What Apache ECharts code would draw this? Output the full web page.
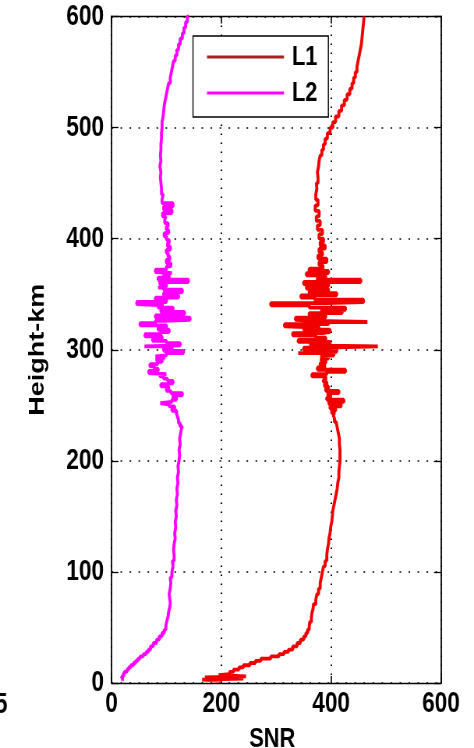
<!DOCTYPE html>
<html>
<head>
<meta charset="utf-8">
<script src="https://cdn.jsdelivr.net/npm/echarts@6/dist/echarts.min.js"></script>
<style>
html,body{margin:0;padding:0;background:#fff;overflow:hidden;}
#wrap{width:474px;height:748px;overflow:hidden;position:relative;}
#chart{width:608px;height:748px;transform:scaleX(0.7796);transform-origin:0 0;position:absolute;left:0;top:0;}
</style>
</head>
<body>
<div id="wrap"><div id="chart"></div></div>
<script>
// ---------- data ----------
const xTicks = [0, 200, 400, 600];
const yTicks = [0, 100, 200, 300, 400, 500, 600];
const seriesNames = ['L1', 'L2'];

const heightL1 = [2,3,4,5,6,7,8,10,12,14,16,18,20,22,24,26,28,30,33,36,39,42,45,48,51,55,59,63,67,71,75,80,85,90,95,100,105,110,115,120,125,130,135,140,145,150,155,160,165,170,175,180,185,190,195,200,205,210,215,220,225,230,235,238,241,243,245,247,249,251,253,255,257,259,261,263,265,267,269,271,273,276,278,280,282,284,286,288,290,292,294,295,297,298,300,302,303,304,305,307,309,311,313,315,316,318,320,321,323,325,326,327,329,331,333,335,336,338,340,342,343,345,347,349,351,353,355,357,359,361,363,365,367,369,371,373,376,379,382,385,388,391,394,397,400,404,408,412,416,420,425,430,435,440,445,450,455,460,465,470,475,480,485,490,495,500,505,510,515,520,525,530,535,540,545,550,555,560,565,570,575,580,585,590,595,600];
const snrL1 = [200,165,240,170,245,195,215,222,232,240,252,262,272,290,305,314,322,330,338,344,350,354,357,360,361,364,365,367,368,372,374,377,380,382,384,386,389,392,393,395,396,398,399,401,402,403,405,407,409,411,412,414,414,415,416,416,416,415,415,413,411,409,406,404,406,401,408,398,418,396,423,392,399,394,414,390,395,388,392,386,390,365,392,426,375,388,380,390,382,395,380,405,340,410,350,392,485,360,398,340,390,372,330,385,398,350,380,315,395,466,370,335,390,360,420,380,426,360,290,390,459,370,345,410,360,395,355,395,350,454,375,390,355,395,360,385,378,392,376,384,378,389,380,386,378,384,375,380,373,378,371,376,372,374,373,376,375,377,378,380,383,386,389,393,398,403,408,414,419,424,429,434,438,441,444,447,449,451,453,455,456,457,458,459,460,461];

const heightL2 = [2,4,6,8,10,12,14,16,18,20,22,24,26,28,30,33,36,39,42,45,48,52,56,60,64,68,72,76,80,85,90,95,100,105,110,115,120,125,130,135,140,145,150,155,160,165,170,175,180,185,190,195,200,205,210,215,220,225,228,231,234,237,240,243,245,247,249,251,252,253,255,257,259,261,263,265,267,269,270,272,274,276,278,279,281,283,285,287,289,291,292,294,295,297,299,301,303,304,306,308,310,312,314,316,318,320,322,324,326,327,329,331,332,334,336,338,340,341,343,345,347,349,351,352,354,356,357,359,361,363,365,367,369,370,372,375,378,381,384,387,390,393,396,399,402,405,408,411,414,417,420,423,426,429,432,435,440,445,450,455,460,465,470,475,480,485,490,495,500,505,510,515,520,525,530,535,540,545,550,555,560,565,570,575,580,585,590,595,600];
const snrL2 = [20,18,22,24,28,31,35,40,44,48,52,58,63,67,71,76,82,87,92,96,99,101,103,104,106,107,106,105,107,108,107,110,112,111,114,113,114,116,115,117,116,118,117,119,118,120,119,121,120,122,121,123,124,123,125,124,126,127,129,125,122,120,118,119,110,115,105,100,89,110,118,112,129,108,100,104,90,98,112,102,95,88,100,68,85,78,70,84,92,80,95,80,100,131,95,110,60,125,100,75,92,61,90,105,85,100,52,80,95,143,80,100,133,90,112,85,95,46,100,80,122,95,110,129,95,85,100,88,140,85,105,95,110,80,100,108,100,106,103,100,107,102,105,100,96,104,100,103,97,99,93,110,95,112,92,94,91,90,89,90,88,90,89,90,90,91,91,92,92,94,95,96,98,100,102,104,107,109,111,113,116,119,122,125,129,132,135,138,141];

// ---------- chart ----------
// The reference figure is horizontally compressed; the chart is laid out
// in a wider box and the whole box is squeezed by S with CSS.
const S = 0.7796;
const px = v => v / S;           // screen px -> layout px (horizontal)
const font = "'Liberation Sans',Arial,Helvetica,sans-serif";
const toPairs = (xs, ys) => xs.map((v, i) => [v, ys[i]]);
const black = '#000';

const chart = echarts.init(document.getElementById('chart'), null, { renderer: 'canvas' });
chart.setOption({
  animation: false,
  backgroundColor: '#fff',
  grid: { left: px(111.5), right: px(33), top: 16.5, bottom: 65, containLabel: false, outerBoundsMode: 'none' },
  legend: {
    left: px(193), top: 36,
    orient: 'vertical',
    backgroundColor: '#fff',
    borderColor: black, borderWidth: 1.4,
    padding: [7, px(11), 10, px(14)],
    itemWidth: px(77), itemHeight: 3, itemGap: 8,
    icon: 'rect',
    data: [
      { name: seriesNames[0], itemStyle: { color: '#a82020' } },
      { name: seriesNames[1], itemStyle: { color: '#ff00ff' } }
    ],
    textStyle: { fontFamily: font, fontWeight: 'bold', fontSize: 28, color: black, lineHeight: 28, padding: [0, 0, 0, px(4)] }
  },
  xAxis: [{
    type: 'value', min: 0, max: 600, interval: 200, position: 'bottom',
    name: 'SNR', nameLocation: 'middle', nameGap: 42,
    nameTextStyle: { fontFamily: font, fontWeight: 'bold', fontSize: 28, color: black, padding: [0, px(8), 0, 0] },
    axisLine: { show: true, onZero: false, lineStyle: { color: black, width: 1.4 } },
    axisTick: { show: true, inside: true, length: 7, lineStyle: { color: black, width: px(1.3) } },
    axisLabel: { show: true, margin: 6, fontFamily: font, fontWeight: 'bold', fontSize: 29, color: black,
      formatter: v => xTicks.includes(v) ? String(v) : '' },
    splitLine: { show: true, lineStyle: { color: black, width: px(1.6), type: [1.6, 7.4] } }
  }, {
    type: 'value', min: 0, max: 600, interval: 200, position: 'top',
    axisLine: { show: true, onZero: false, lineStyle: { color: black, width: 1.4 } },
    axisTick: { show: true, inside: true, length: 7, lineStyle: { color: black, width: px(1.3) } },
    axisLabel: { show: false }, splitLine: { show: false }
  }],
  yAxis: [{
    type: 'value', min: 0, max: 600, interval: 100, position: 'left',
    name: 'Height-km', nameLocation: 'middle', nameGap: px(63), nameRotate: 90,
    nameTextStyle: { fontFamily: font, fontWeight: 'bold', fontSize: 27, color: black },
    axisLine: { show: true, onZero: false, lineStyle: { color: black, width: px(1.4) } },
    axisTick: { show: true, inside: true, length: px(7), lineStyle: { color: black, width: 1.3 } },
    axisLabel: { show: true, margin: px(7.5), fontFamily: font, fontWeight: 'bold', fontSize: 29, color: black,
      formatter: v => yTicks.includes(v) ? String(v) : '' },
    splitLine: { show: true, lineStyle: { color: black, width: 1.6, type: [px(1.6), px(7.4)] } }
  }, {
    type: 'value', min: 0, max: 600, interval: 100, position: 'right',
    axisLine: { show: true, onZero: false, lineStyle: { color: black, width: px(1.4) } },
    axisTick: { show: true, inside: true, length: px(7), lineStyle: { color: black, width: 1.3 } },
    axisLabel: { show: false }, splitLine: { show: false }
  }],
  graphic: [{
    type: 'text', left: px(-5), top: 690,
    style: { text: '5', fontFamily: font, fontWeight: 'bold', fontSize: 29, fill: black }
  }],
  series: [{
    name: seriesNames[0], type: 'line', step: 'start',
    data: toPairs(snrL1, heightL1),
    showSymbol: false, symbol: 'none',
    lineStyle: { color: '#f00000', width: 3.8 },
    itemStyle: { color: '#f00000' }
  }, {
    name: seriesNames[1], type: 'line', step: 'start',
    data: toPairs(snrL2, heightL2),
    showSymbol: false, symbol: 'none',
    lineStyle: { color: '#ff00ff', width: 3.8 },
    itemStyle: { color: '#ff00ff' }
  }]
});
</script>
</body>
</html>
